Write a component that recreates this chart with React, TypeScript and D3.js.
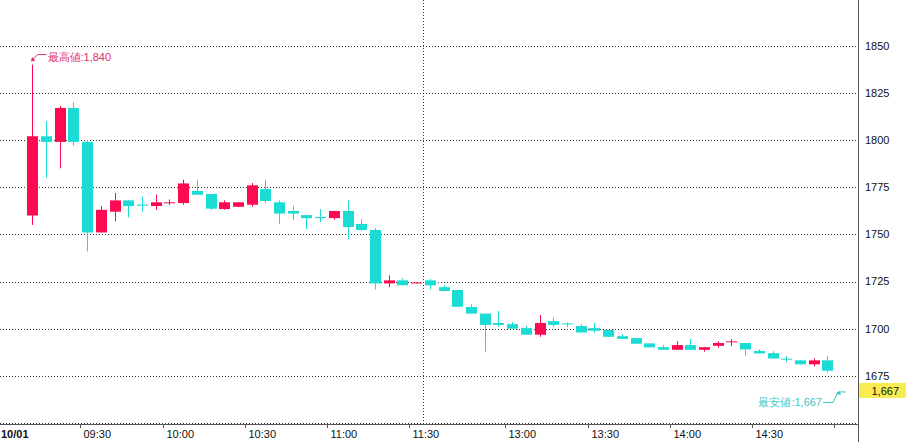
import React from "react";
import * as d3 from "d3";

const opens = [1760,1802,1799,1817,1799,1751,1762,1768,1765.8,1765,1766.5,1766.6,1773,1771.4,1763.4,1764.6,1765.7,1774,1767,1762.4,1760.2,1759.2,1758.6,1762.4,1755.5,1752.3,1724,1725.6,1724,1725.6,1722,1720.5,1711.5,1708,1703,1702.4,1700.3,1696.8,1704,1702.8,1701.4,1700.3,1699.3,1696,1695,1692.2,1690.2,1688.8,1691.3,1688.8,1690.9,1692.9,1692.4,1688.2,1687,1684.1,1683.2,1681.1,1683.2];
const highs = [1840,1810,1818,1820,1800,1765,1772,1768,1770,1771,1768.5,1779,1779,1771.4,1768,1767.1,1777.2,1779,1768,1765,1760.2,1763.4,1762.4,1768,1758,1753.3,1728.3,1726.7,1724.5,1726.3,1723,1720.5,1713,1708,1709.3,1703.5,1701.4,1707.2,1706,1703.2,1702.4,1703,1699.3,1697,1695,1692.2,1691.3,1693.4,1694.5,1690.2,1693.4,1694.5,1692.4,1689,1688,1685.5,1683.2,1684.2,1685.5];
const lows = [1755,1780,1785,1797,1741,1751,1757,1759,1762,1763,1765.5,1765.7,1771,1763,1763,1764.6,1764.6,1766.6,1755.6,1757.6,1752.8,1756.5,1757.7,1747.5,1752,1720.8,1722,1723,1724,1720.8,1720,1711.6,1708,1687.8,1701,1700,1696.8,1695.7,1700.8,1700.8,1698,1697.8,1695.7,1694.6,1692,1690.1,1688.8,1688.8,1688.8,1687.8,1689.9,1690.7,1685.6,1686.9,1684.2,1682.3,1681.1,1680,1676.8];
const closes = [1802,1799,1817,1799,1751,1763,1768,1765,1765.2,1767,1767,1777,1771,1763.6,1767,1767,1776,1767.7,1761,1761,1758.6,1758.6,1762.4,1753.9,1752.3,1724,1725.6,1723,1724.5,1723,1720,1711.6,1708,1702,1702,1700,1696.8,1703,1702,1702.3,1698,1698.9,1695.7,1694.6,1692,1690.1,1688.8,1691.3,1688.8,1690.2,1692.4,1693.3,1689,1686.9,1684.2,1683.8,1681.1,1683.2,1677.7];

const timeTickSlots = [4, 10, 16, 22, 28, 35, 41, 47, 53, 59];
const timeTickLabels = ["09:30", "10:00", "10:30", "11:00", "11:30", "13:00", "13:30", "14:00", "14:30", ""];
const dateLabel = "10/01";
const sessionBreakSlot = 29;
const priceTicks = [1675, 1700, 1725, 1750, 1775, 1800, 1825, 1850];
const gridPrices = [1650, 1675, 1700, 1725, 1750, 1775, 1800, 1825, 1850, 1875];
const highLabel = "最高値:1,840";
const lowLabel = "最安値:1,667";
const lastPrice = 1667;
const lastPriceLabel = "1,667";

const W = 906;
const H = 442;
const AXIS_X = 858;
const AXIS_Y = 424;
const UP = "#fc0a52";
const DOWN = "#1adcd4";
const FONT = "'Liberation Sans', Arial, sans-serif";

export default function App() {
  const x = d3.scaleLinear().domain([0, 59]).range([25.46, 834.3]);
  const y = d3.scaleLinear().domain([1650, 1850]).range([423, 45.7]);
  const bodyW = 11;
  const py = (v: number) => Math.round(y(v)) + 0.5;

  const hiX = Math.round(x(0.5)) + 0.5;
  const hiY = y(highs[0]);
  const loY = y(lastPrice);

  return (
    <svg width={W} height={H} style={{ position: "absolute", left: 0, top: 0, background: "#fff" }}
      fontFamily={FONT}>
      <rect x={0} y={0} width={W} height={H} fill="#fff" />
      {gridPrices.map((p) => (
        <line key={"g" + p} x1={0} x2={AXIS_X} y1={py(p)} y2={py(p)} stroke="#333" strokeDasharray="1 2" strokeWidth={1} />
      ))}
      <line x1={Math.round(x(sessionBreakSlot)) + 0.5} x2={Math.round(x(sessionBreakSlot)) + 0.5} y1={0} y2={AXIS_Y}
        stroke="#333" strokeDasharray="1 2" />
      {opens.map((o, i) => {
        const c = closes[i];
        const up = c >= o;
        const col = up ? UP : DOWN;
        const cx = Math.round(x(i + 0.5)) + 0.5;
        const top = y(Math.max(o, c));
        const bot = y(Math.min(o, c));
        const h = Math.max(1, bot - top);
        return (
          <g key={i}>
            <line x1={cx} x2={cx} y1={y(highs[i])} y2={y(lows[i])} stroke={col} strokeWidth={1} />
            <rect x={cx - bodyW / 2} y={top} width={bodyW} height={h} fill={col} />
          </g>
        );
      })}
      {/* high annotation */}
      <path d={`M${hiX},${hiY - 5} L${hiX + 5},${hiY - 10} L${hiX + 14},${hiY - 10}`} fill="none" stroke="#e0306a" strokeWidth={1} />
      <path d={`M${hiX - 1.5},${hiY - 3} l4.5,-1 l-3.5,-3.5 z`} fill="#e0306a" />
      <text x={hiX + 15} y={hiY - 7.5} dy="0.35em" fontSize={11} fill="#e0306a">{highLabel}</text>
      {/* low annotation */}
      <text x={822} y={loY + 11} dy="0.35em" fontSize={11} fill="#3cc8c8" textAnchor="end">{lowLabel}</text>
      <path d={`M823,${loY + 11.5} L833,${loY + 11.5} L838,${loY + 1} L846,${loY + 1}`} fill="none" stroke="#3cc8c8" strokeWidth={1} />
      <path d={`M836,${loY + 3} l4,-3 l1,4 z`} fill="#3cc8c8" />
      {/* axes */}
      <line x1={0} x2={AXIS_X} y1={AXIS_Y + 0.5} y2={AXIS_Y + 0.5} stroke="#555" />
      <line x1={AXIS_X + 0.5} x2={AXIS_X + 0.5} y1={0} y2={H} stroke="#555" />
      {timeTickSlots.map((s, i) => {
        const tx = Math.round(x(s)) + 0.5;
        return (
          <g key={"t" + s}>
            <line x1={tx} x2={tx} y1={AXIS_Y} y2={AXIS_Y + 4} stroke="#555" />
            <text x={tx + 3} y={438} fontSize={11} fill="#111">{timeTickLabels[i]}</text>
          </g>
        );
      })}
      <text x={1} y={438} fontSize={11} fontWeight="bold" fill="#111">{dateLabel}</text>
      {priceTicks.map((p) => (
        <text key={"p" + p} x={865} y={y(p)} dy="0.35em" fontSize={11} fill="#111">{p}</text>
      ))}
      <rect x={AXIS_X + 1} y={loY - 8} width={W - AXIS_X - 1} height={15} fill="#f8ec52" />
      <text x={899} y={loY} dy="0.35em" fontSize={11} fill="#111" textAnchor="end">{lastPriceLabel}</text>
    </svg>
  );
}
